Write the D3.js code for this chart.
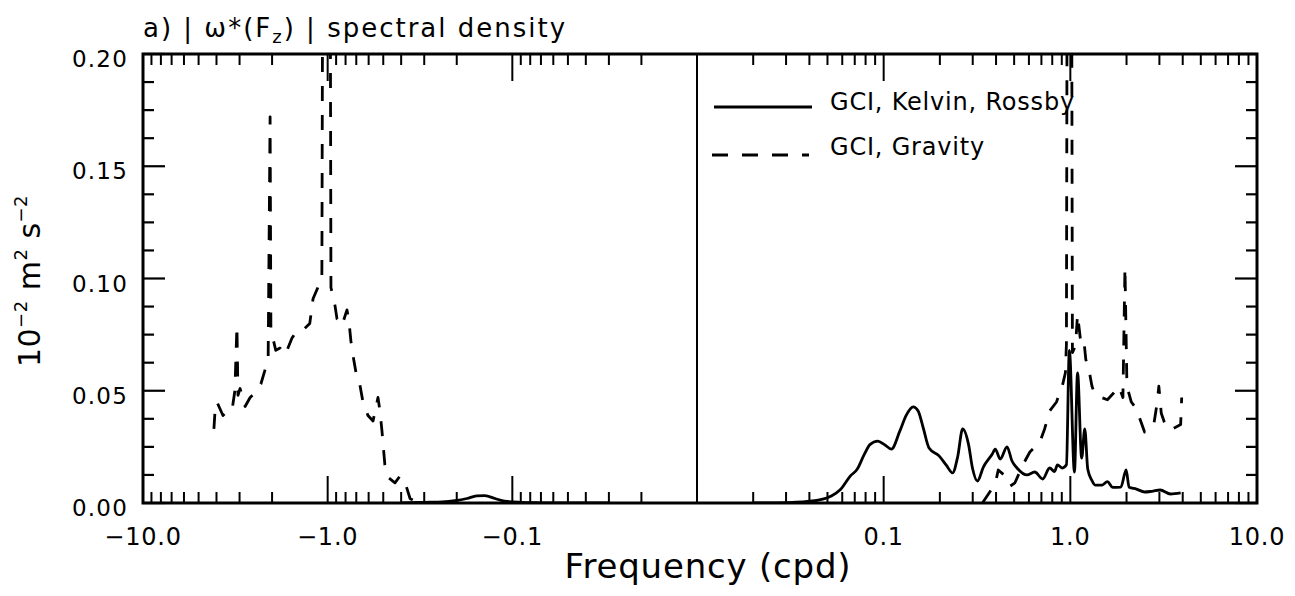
<!DOCTYPE html>
<html><head><meta charset="utf-8">
<script src="https://cdn.jsdelivr.net/npm/d3@7"></script>
<style>
html,body{margin:0;padding:0;background:#fff;}
svg text{font-family:"DejaVu Sans",sans-serif;fill:#000;}
</style></head>
<body><svg id="c" width="1295" height="596"></svg>
<script>
// ---------- data ----------
const gravityNegFreq = [-4.13,-4.08,-3.98,-3.83,-3.69,-3.47,-3.30,-3.18,-3.10,-3.06,-2.98,-2.80,-2.63,-2.48,-2.30,-2.19,-2.10,-2.05,-2.03,-1.98,-1.91,-1.81,-1.72,-1.66,-1.56,-1.47,-1.36,-1.25,-1.20,-1.13,-1.075,-1.06,-0.972,-0.96,-0.913,-0.890,-0.837,-0.786,-0.767,-0.748,-0.730,-0.694,-0.669,-0.644,-0.605,-0.568,-0.534,-0.521,-0.508,-0.490,-0.472,-0.432,-0.406,-0.382,-0.358,-0.324,-0.28];
const gravityNegVal  = [0.033,0.040,0.045,0.042,0.039,0.041,0.041,0.050,0.079,0.048,0.051,0.043,0.047,0.049,0.053,0.059,0.065,0.172,0.078,0.0735,0.068,0.069,0.066,0.068,0.0735,0.0766,0.077,0.080,0.091,0.096,0.098,0.30,0.30,0.096,0.088,0.082,0.079,0.086,0.081,0.072,0.066,0.0557,0.0526,0.045,0.039,0.0365,0.047,0.041,0.032,0.017,0.0115,0.009,0.012,0.0095,0.002,0.0,0.0];

const kelvinNegFreq = [-0.40,-0.30,-0.24,-0.205,-0.176,-0.156,-0.141,-0.124,-0.110,-0.090,-0.070,-0.050,-0.030];
const kelvinNegVal  = [0.0,0.0003,0.0005,0.001,0.002,0.0032,0.0033,0.002,0.0008,0.0003,0.0001,0.0,0.0];

const kelvinPosFreq = [0.02,0.0308,0.0428,0.052,0.0587,0.0662,0.0721,0.0785,0.0844,0.093,0.101,0.110,0.122,0.132,0.144,0.153,0.163,0.175,0.198,0.216,0.234,0.249,0.265,0.285,0.299,0.318,0.342,0.382,0.396,0.421,0.458,0.487,0.518,0.585,0.645,0.711,0.775,0.823,0.853,0.908,0.953,0.988,1.052,1.093,1.15,1.195,1.24,1.306,1.357,1.48,1.58,1.685,1.865,1.99,2.065,2.26,2.50,2.73,3.03,3.44,3.90];
const kelvinPosVal  = [0.0,0.0002,0.001,0.003,0.006,0.012,0.015,0.0214,0.026,0.0276,0.026,0.024,0.032,0.039,0.0428,0.041,0.0334,0.0245,0.021,0.017,0.0134,0.0205,0.033,0.026,0.0156,0.0098,0.016,0.0218,0.024,0.0196,0.025,0.0187,0.0156,0.0125,0.0138,0.0107,0.0156,0.014,0.017,0.0156,0.017,0.068,0.0138,0.058,0.020,0.033,0.015,0.010,0.008,0.008,0.0095,0.007,0.0071,0.0147,0.007,0.0062,0.0049,0.0052,0.0058,0.004,0.0045];

const gravityPosFreq = [0.338,0.396,0.411,0.448,0.476,0.505,0.557,0.607,0.686,0.728,0.775,0.843,0.908,0.941,0.953,0.964,1.013,1.026,1.066,1.093,1.136,1.18,1.21,1.273,1.306,1.357,1.465,1.58,1.706,1.82,1.913,1.962,2.01,2.12,2.26,2.37,2.50,2.66,2.80,2.91,2.98,3.07,3.19,3.39,3.52,3.71,3.90,3.95];
const gravityPosVal  = [0.0,0.0085,0.0147,0.012,0.0075,0.009,0.017,0.0227,0.027,0.033,0.041,0.045,0.0525,0.058,0.071,0.30,0.30,0.067,0.070,0.084,0.072,0.073,0.064,0.057,0.052,0.048,0.047,0.046,0.049,0.052,0.047,0.105,0.052,0.045,0.042,0.037,0.0316,0.034,0.035,0.044,0.052,0.040,0.036,0.0325,0.033,0.034,0.035,0.047];

const xTickValues = [-10,-1,-0.1,0.1,1,10];
const xTickLabels = ["\u221210.0","\u22121.0","\u22120.1","0.1","1.0","10.0"];
const yTickValues = [0,0.05,0.10,0.15,0.20];
const yTickLabels = ["0.00","0.05","0.10","0.15","0.20"];
const legendLabels = ["GCI, Kelvin, Rossby","GCI, Gravity"];

// ---------- layout ----------
const L = 143, C = 697, R = 1257, T = 54, B = 503;
const svg = d3.select("#c");
const xNeg = d3.scaleLog().domain([10,0.01]).range([L,C]);
const xPos = d3.scaleLog().domain([0.01,10]).range([C,R]);
const xf = f => f < 0 ? xNeg(-f) : xPos(f);
const y = d3.scaleLinear().domain([0,0.2]).range([B,T]);

svg.append("defs").append("clipPath").attr("id","clip")
  .append("rect").attr("x",L).attr("y",T).attr("width",R-L).attr("height",B-T);

const g = svg.append("g");
const majLen = 27, minLen = 11, yMaj = 22, yMin = 11;
function isPow10(v){ const l = Math.log10(Math.abs(v)); return Math.abs(l-Math.round(l))<1e-6; }

// x ticks (bottom and top)
const negTicks = xNeg.ticks().filter(v => v > 0.0101 && v < 9.99);
const posTicks = xPos.ticks().filter(v => v > 0.0101 && v < 9.99);
const allX = negTicks.map(v=>xNeg(v)).concat(posTicks.map(v=>xPos(v)));
const allXmaj = negTicks.map(isPow10).concat(posTicks.map(isPow10));
allX.forEach((px,i)=>{
  const len = allXmaj[i] ? majLen : minLen;
  g.append("line").attr("x1",px).attr("x2",px).attr("y1",B).attr("y2",B-len).attr("stroke","#000").attr("stroke-width",2);
  g.append("line").attr("x1",px).attr("x2",px).attr("y1",T).attr("y2",T+len).attr("stroke","#000").attr("stroke-width",2);
});
// y ticks (left and right)
d3.range(0,0.2001,0.0125).forEach(v=>{
  const major = Math.abs(v/0.05 - Math.round(v/0.05))<1e-6;
  const len = major ? yMaj : yMin;
  const py = y(v);
  g.append("line").attr("x1",L).attr("x2",L+len).attr("y1",py).attr("y2",py).attr("stroke","#000").attr("stroke-width",2.2);
  g.append("line").attr("x1",R).attr("x2",R-len).attr("y1",py).attr("y2",py).attr("stroke","#000").attr("stroke-width",2.2);
});

// frame + center divider
g.append("rect").attr("x",L).attr("y",T).attr("width",R-L).attr("height",B-T)
  .attr("fill","none").attr("stroke","#000").attr("stroke-width",3);
g.append("line").attr("x1",C).attr("x2",C).attr("y1",T).attr("y2",B).attr("stroke","#000").attr("stroke-width",2);

// tick labels
xTickValues.forEach((v,i)=>{
  g.append("text").attr("x",xf(v)).attr("y",545).attr("text-anchor","middle")
   .attr("font-size",24).attr("letter-spacing",0.8).text(xTickLabels[i]);
});
yTickValues.forEach((v,i)=>{
  g.append("text").attr("x",128).attr("y",y(v)+13).attr("text-anchor","end")
   .attr("font-size",23).attr("letter-spacing",1.2).text(yTickLabels[i]);
});

// data
const plot = svg.append("g").attr("clip-path","url(#clip)");
const lineLin = d3.line().x(d=>xf(d[0])).y(d=>y(d[1]));
const lineSmooth = d3.line().x(d=>xf(d[0])).y(d=>y(d[1])).curve(d3.curveMonotoneX);
function draw(fr, vals, dashed){
  plot.append("path").datum(fr.map((f,i)=>[f,vals[i]]))
    .attr("d",dashed?lineLin:lineSmooth).attr("fill","none").attr("stroke","#000")
    .attr("stroke-width",2.8).attr("stroke-linejoin","round")
    .attr("stroke-dasharray",dashed?"15,14":null);
}
draw(kelvinNegFreq,kelvinNegVal,false);
draw(kelvinPosFreq,kelvinPosVal,false);
draw(gravityNegFreq,gravityNegVal,true);
draw(gravityPosFreq,gravityPosVal,true);

// legend
g.append("line").attr("x1",714).attr("x2",812).attr("y1",107).attr("y2",107).attr("stroke","#000").attr("stroke-width",2.8);
g.append("line").attr("x1",712).attr("x2",809).attr("y1",155).attr("y2",155).attr("stroke","#000").attr("stroke-width",2.8).attr("stroke-dasharray","16,14");
g.append("text").attr("x",830).attr("y",110).attr("font-size",24).attr("letter-spacing",0.8).text(legendLabels[0]);
g.append("text").attr("x",830).attr("y",155).attr("font-size",24).attr("letter-spacing",0.8).text(legendLabels[1]);

// title
const title = g.append("text").attr("x",143).attr("y",37).attr("font-size",26).attr("letter-spacing",2);
title.append("tspan").text("a) | \u03c9*(F");
title.append("tspan").attr("font-size",18).attr("dy",6).text("z");
title.append("tspan").attr("dy",-6).text(") | spectral density");

// x label
g.append("text").attr("x",708).attr("y",578).attr("text-anchor","middle").attr("font-size",34).attr("letter-spacing",0.8).text("Frequency (cpd)");
// y label
const yl = g.append("text").attr("transform","translate(40,281) rotate(-90)").attr("text-anchor","middle").attr("font-size",30).attr("letter-spacing",0.5);
yl.append("tspan").text("10");
yl.append("tspan").attr("font-size",18).attr("dy",-13).text("\u22122");
yl.append("tspan").attr("dy",13).text(" m");
yl.append("tspan").attr("font-size",18).attr("dy",-13).text("2");
yl.append("tspan").attr("dy",13).text(" s");
yl.append("tspan").attr("font-size",18).attr("dy",-13).text("\u22122");
</script></body></html>
